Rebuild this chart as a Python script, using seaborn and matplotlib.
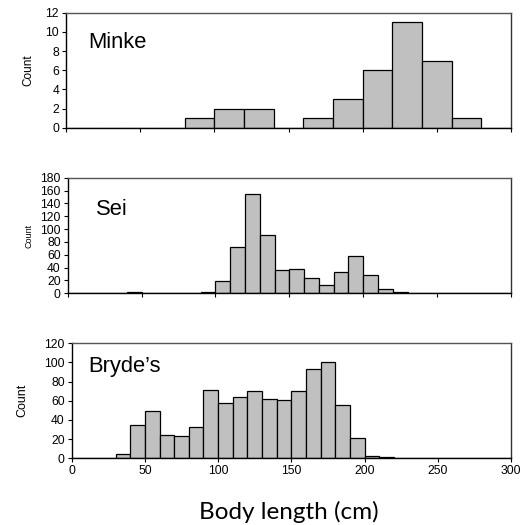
import matplotlib
matplotlib.use("Agg")
import matplotlib.pyplot as plt
import seaborn as sns
import numpy as np
import pandas as pd

# ---- data ----
minke_edges = [0, 20, 40, 60, 80, 100, 120, 140, 160, 180, 200, 220, 240, 260, 280, 300]
minke_counts = [0, 0, 0, 0, 1, 2, 2, 0, 1, 3, 6, 11, 7, 1, 0]

sei_edges = list(range(0, 310, 10))
sei_counts = [0, 0, 0, 0, 2, 0, 0, 0, 0, 2, 19, 72, 154, 90, 36, 38, 24, 13, 33, 58,
              29, 6, 2, 0, 0, 0, 0, 1, 0, 0]

bryde_edges = list(range(0, 310, 10))
bryde_counts = [0, 0, 0, 4, 35, 49, 24, 23, 33, 71, 58, 64, 70, 62, 61, 70, 93, 100, 56, 21,
                2, 1, 0, 0, 0, 0, 0, 0, 0, 0]

x_ticks = [0, 50, 100, 150, 200, 250, 300]
panels = [
    ("Minke", minke_edges, minke_counts, [0, 2, 4, 6, 8, 10, 12]),
    ("Sei", sei_edges, sei_counts, [0, 20, 40, 60, 80, 100, 120, 140, 160, 180]),
    ("Bryde\u2019s", bryde_edges, bryde_counts, [0, 20, 40, 60, 80, 100, 120]),
]

sns.set_theme(style="white")
plt.rcParams['font.family'] = ['Liberation Sans', 'DejaVu Sans']

W, H = 531, 525
fig = plt.figure(figsize=(W / 100, H / 100), dpi=100)

# pixel boxes: left, top, right, bottom
boxes = [(66, 12.7, 511, 127.7), (67.7, 177.7, 511, 293.3), (71.7, 343.3, 511, 458.3)]
label_pos = [(0.05, 0.737), (0.064, 0.727), (0.038, 0.797)]
count_x = [28, 29, 22]
count_size = [8.5, 6.5, 9]

for i, ((name, edges, counts, yt), (l, t, r, b)) in enumerate(zip(panels, boxes)):
    ax = fig.add_axes([l / W, 1 - b / H, (r - l) / W, (b - t) / H])
    e = np.array(edges, dtype=float)
    df = pd.DataFrame({"length": (e[:-1] + e[1:]) / 2, "count": counts})
    sns.histplot(data=df, x="length", weights="count", bins=list(edges), ax=ax,
                 color="#c0c0c0", edgecolor="black", linewidth=0.9, alpha=1.0)
    ax.set_xlim(0, 300)
    ax.set_ylim(yt[0], yt[-1])
    ax.set_yticks(yt)
    ax.set_xticks(x_ticks)
    ax.set_ylabel("")
    ax.set_xlabel("")
    ax.tick_params(axis="both", direction="out", length=3, width=0.8, colors="black",
                   labelsize=8.7, pad=2, bottom=True, left=True)
    if i < 2:
        ax.set_xticklabels([])
    for s in ["left", "bottom"]:
        ax.spines[s].set_color("black")
        ax.spines[s].set_linewidth(1.0)
    ax.spines["right"].set_color("#333333")
    ax.spines["right"].set_linewidth(1.0)
    ax.spines["top"].set_color("#555555")
    ax.spines["top"].set_linewidth(1.0)
    for s in ax.spines.values():
        s.set_visible(True)
    ax.text(label_pos[i][0], label_pos[i][1], name, transform=ax.transAxes,
            fontsize=15.8, va="center", ha="left", color="black")
    fig.text(count_x[i] / W, 1 - ((t + b) / 2) / H, "Count", rotation=90,
             ha="center", va="center", fontsize=count_size[i], color="black")

fig.text(289 / W, 1 - 511.7 / H, "Body length (cm)", ha="center", va="center",
         fontsize=17.5, family=["Lato", "DejaVu Sans"], color="black")

fig.savefig("out.png", dpi=100, facecolor="white")
